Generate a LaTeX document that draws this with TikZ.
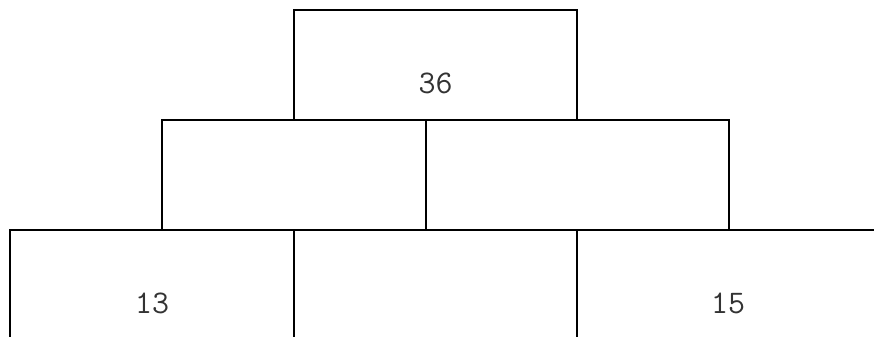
\documentclass[tikz,border=0pt]{standalone}
\usepackage{tikz}
\usetikzlibrary{positioning}

\begin{document}
\begin{tikzpicture}[
  node distance=0pt,
  brick/.style={draw,line width=1.25pt,rectangle,outer sep=0pt,minimum height=55pt,
    text height=29pt,text depth=0pt,text=black!80,font=\fontsize{16.5}{19}\selectfont\ttfamily}
]
\useasboundingbox (0,0) rectangle (437pt,168.5pt);
% bottom row
\node[brick,minimum width=142pt,anchor=north west] (b1) at (5pt,53.5pt) {13};
\node[brick,minimum width=141.5pt,right=of b1] (b2) {};
\node[brick,minimum width=151pt,right=of b2] (b3) {15};
% middle row
\node[brick,minimum width=132pt,anchor=south west] (m1) at ([xshift=76pt]b1.north west) {};
\node[brick,minimum width=151.5pt,right=of m1] (m2) {};
% top
\node[brick,minimum width=141.5pt,above=55pt of b2] (top) {36};
\end{tikzpicture}
\end{document}
